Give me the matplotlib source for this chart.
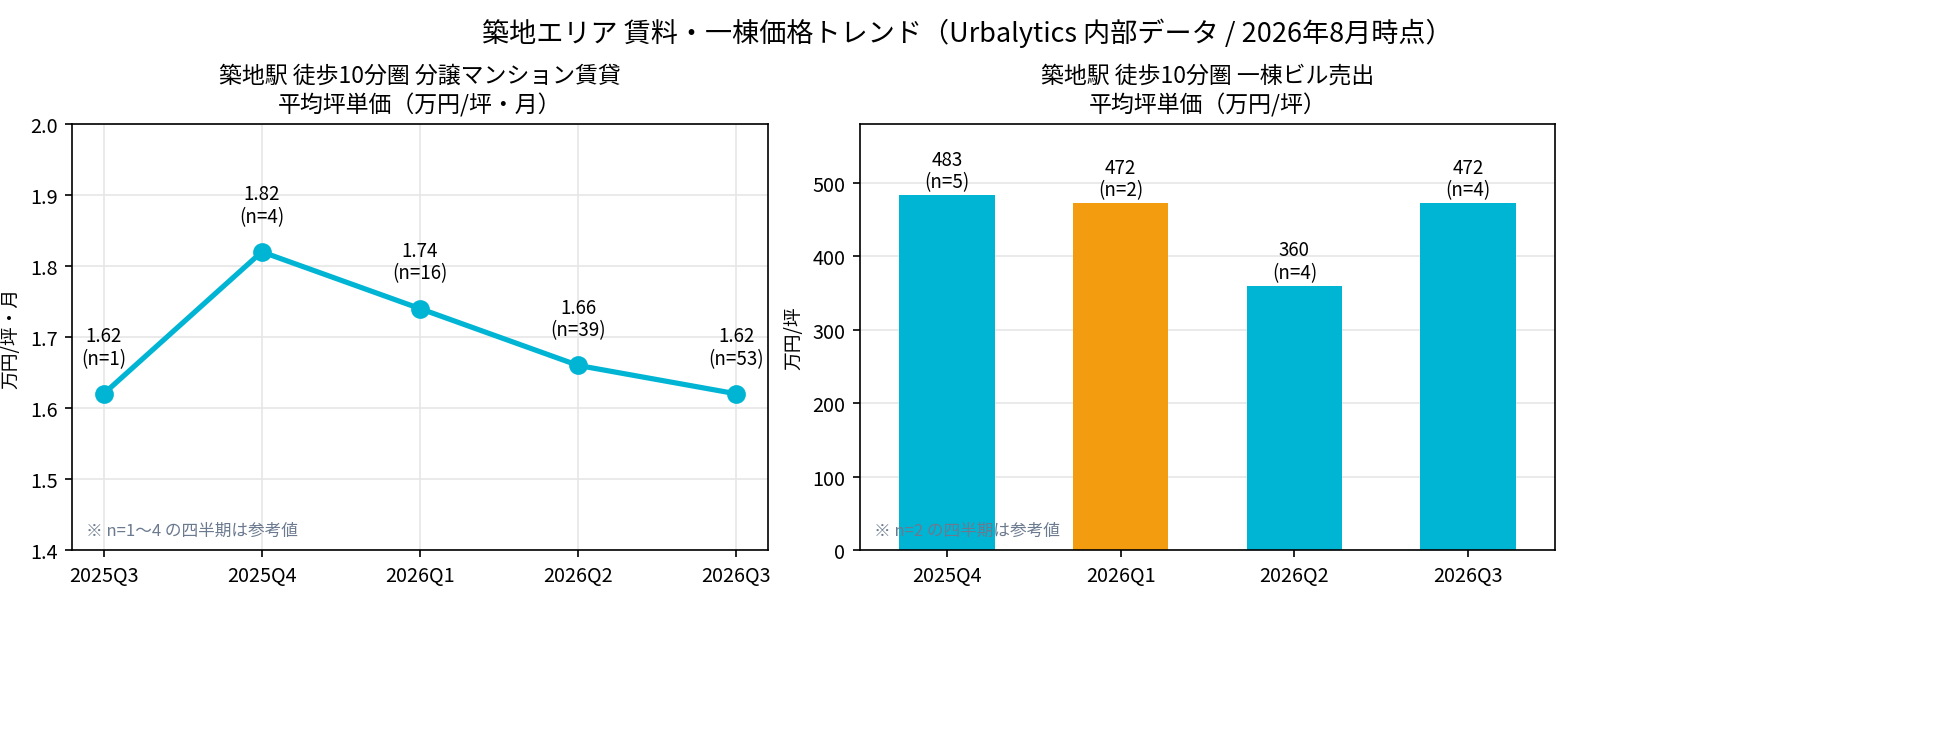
import matplotlib.pyplot as plt
import numpy as np

plt.rcParams['font.family'] = ['Noto Sans CJK JP', 'DejaVu Sans']

rent_q = ["2025Q3", "2025Q4", "2026Q1", "2026Q2", "2026Q3"]
rent_val = [1.62, 1.82, 1.74, 1.66, 1.62]
rent_n = [1, 4, 16, 39, 53]

bldg_q = ["2025Q4", "2026Q1", "2026Q2", "2026Q3"]
bldg_val = [483, 472, 360, 472]
bldg_n = [5, 2, 4, 4]

CYAN = "#00B5D4"
ORANGE = "#F39C0F"
NOTE = "#6B7A8F"

fig, (ax1, ax2) = plt.subplots(1, 2, figsize=(12.9, 4.873), dpi=150)
fig.subplots_adjust(left=0.037, right=0.804 + 0.0, top=0.83, bottom=0.245)
fig.subplots_adjust(left=0.037, right=0.804, wspace=0.13)
ax1.set_position([72 / 1935, 1 - 551 / 731, 696 / 1935, 426 / 731])
ax2.set_position([860 / 1935, 1 - 551 / 731, 695 / 1935, 426 / 731])

x1 = np.arange(len(rent_q))
ax1.plot(x1, rent_val, color=CYAN, lw=2.5, marker="o", ms=8, zorder=3)
for xi, v, n in zip(x1, rent_val, rent_n):
    ax1.annotate(f"{v:.2f}\n(n={n})", (xi, v), xytext=(0, 12), textcoords="offset points",
                 ha="center", va="bottom", fontsize=9, linespacing=1.1)
ax1.set_xticks(x1)
ax1.set_xticklabels(rent_q)
ax1.set_xlim(-0.2, 4.2)
ax1.set_ylim(1.4, 2.0)
ax1.set_ylabel("万円/坪・月", fontsize=9)
ax1.set_title("築地駅 徒歩10分圏 分譲マンション賃貸\n平均坪単価（万円/坪・月）", fontsize=11, linespacing=1.3)
ax1.grid(True, color="#e6e6e6", lw=0.8)
ax1.set_axisbelow(True)
ax1.text(0.02, 0.035, "※ n=1〜4 の四半期は参考値", transform=ax1.transAxes,
         fontsize=8, color=NOTE)

x2 = np.arange(len(bldg_q))
colors = [ORANGE if n <= 2 else CYAN for n in bldg_n]
ax2.bar(x2, bldg_val, width=0.55, color=colors, zorder=2)
for xi, v, n in zip(x2, bldg_val, bldg_n):
    ax2.text(xi, v + 4, f"{v}\n(n={n})", ha="center", va="bottom", fontsize=9, linespacing=1.1)
ax2.set_xticks(x2)
ax2.set_xticklabels(bldg_q)
ax2.set_xlim(-0.5, 3.5)
ax2.set_ylim(0, 580)
ax2.set_ylabel("万円/坪", fontsize=9)
ax2.set_title("築地駅 徒歩10分圏 一棟ビル売出\n平均坪単価（万円/坪）", fontsize=11, linespacing=1.3)
ax2.grid(True, axis="y", color="#e6e6e6", lw=0.8)
ax2.set_axisbelow(True)
ax2.text(0.02, 0.035, "※ n=2 の四半期は参考値", transform=ax2.transAxes,
         fontsize=8, color=NOTE, zorder=5)

for ax in (ax1, ax2):
    ax.tick_params(labelsize=9.5)

fig.suptitle("築地エリア 賃料・一棟価格トレンド（Urbalytics 内部データ / 2026年8月時点）",
             fontsize=13, y=0.975)

fig.savefig("out.png", dpi=150, facecolor="white")
